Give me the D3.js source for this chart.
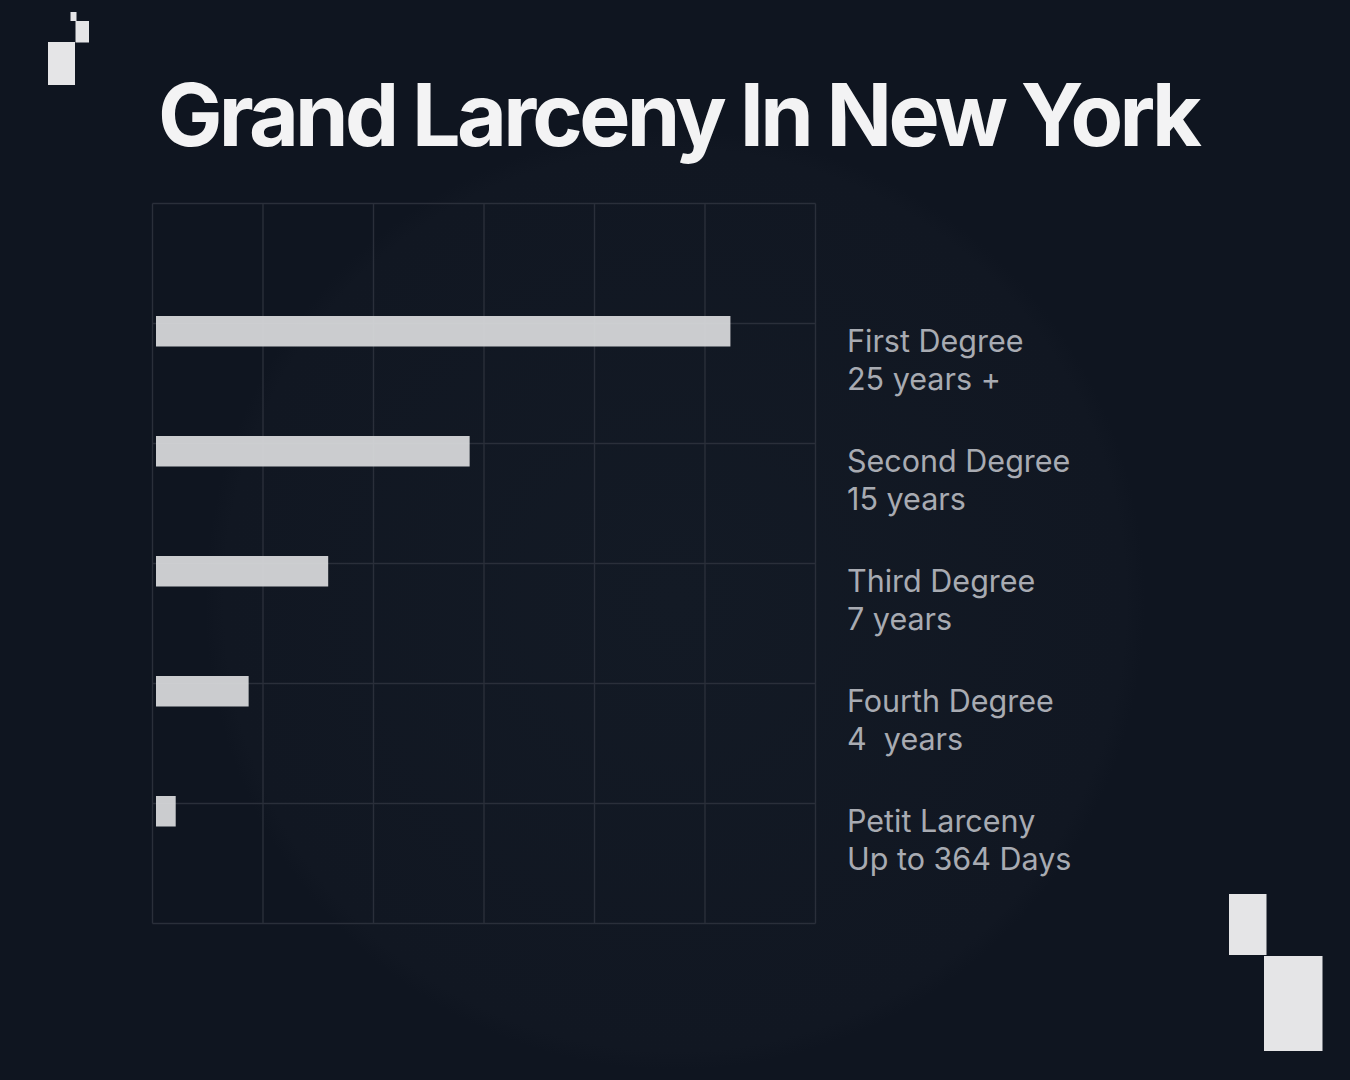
<!DOCTYPE html>
<html>
<head>
<meta charset="utf-8">
<script src="https://cdn.jsdelivr.net/npm/d3@7"></script>
<style>
html,body{margin:0;padding:0;background:#0f1520;}
svg{display:block;}
</style>
</head>
<body>
<svg id="chart" width="1350" height="1080"></svg>
<script>
const title = "Grand Larceny In New York";
const categories = ["First Degree", "Second Degree", "Third Degree", "Fourth Degree", "Petit Larceny"];
const sentences = ["25 years +", "15 years", "7 years", "4  years", "Up to 364 Days"];
const values = [26.15, 14.35, 7.95, 4.35, 1.05];
const xTicks = [0, 5, 10, 15, 20, 25, 30];
const rowTicks = [0, 1, 2, 3, 4, 5, 6];

const svg = d3.select("#chart");
const W = 1350, H = 1080;

const defs = svg.append("defs");
const rg = defs.append("radialGradient").attr("id", "glow")
  .attr("cx", 675).attr("cy", 600).attr("r", 470).attr("gradientUnits", "userSpaceOnUse");
rg.append("stop").attr("offset", "0%").attr("stop-color", "#131a25");
rg.append("stop").attr("offset", "96%").attr("stop-color", "#111722");
rg.append("stop").attr("offset", "100%").attr("stop-color", "#0f1520");

svg.append("rect").attr("width", W).attr("height", H).attr("fill", "#0f1520");
svg.append("circle").attr("cx", 675).attr("cy", 600).attr("r", 470).attr("fill", "url(#glow)");

// logo top-left
const logo = [[70.5, 12, 6, 9], [75.5, 21, 13.5, 21.5], [48, 42, 27, 43]];
svg.append("g").selectAll("rect").data(logo).join("rect")
  .attr("x", d => d[0]).attr("y", d => d[1]).attr("width", d => d[2]).attr("height", d => d[3])
  .attr("fill", "#e5e5e7");
// decoration bottom-right
const deco = [[1229, 894, 37.5, 61], [1264, 956, 58.5, 95]];
svg.append("g").selectAll("rect").data(deco).join("rect")
  .attr("x", d => d[0]).attr("y", d => d[1]).attr("width", d => d[2]).attr("height", d => d[3])
  .attr("fill", "#e5e5e7");

// title
const t = svg.append("text").text(title)
  .attr("x", 158).attr("y", 146)
  .attr("font-family", "Inter, 'Open Sans', sans-serif")
  .attr("font-weight", 700).attr("font-size", 86)
  .attr("fill", "#f3f3f4");
const tw = t.node().getComputedTextLength();
const target = 1044;
t.attr("letter-spacing", ((target - tw) / (title.length - 1)) + "px");

// scales
const x = d3.scaleLinear().domain([0, 30]).range([152.5, 815.5]);
const y = d3.scaleLinear().domain([0, 6]).range([203.5, 923.5]);

const grid = svg.append("g").attr("stroke", "#2a2f3a").attr("stroke-width", 1.4).attr("fill", "none");
grid.selectAll("line.v").data(xTicks).join("line").attr("class", "v")
  .attr("x1", d => x(d)).attr("x2", d => x(d)).attr("y1", y(0)).attr("y2", y(6));
grid.selectAll("line.h").data(rowTicks).join("line").attr("class", "h")
  .attr("y1", d => y(d)).attr("y2", d => y(d)).attr("x1", x(0)).attr("x2", x(30));

// bars
const barH = 30.5, barUp = 7.5, inset = 3.5;
svg.append("g").selectAll("rect").data(values).join("rect")
  .attr("x", x(0) + inset)
  .attr("y", (d, i) => y(i + 1) - barUp)
  .attr("width", d => x(d) - x(0) - inset)
  .attr("height", barH)
  .attr("fill", "#d9dadd").attr("fill-opacity", 0.93);

// labels
const lab = svg.append("g")
  .attr("font-family", "Inter, 'Open Sans', sans-serif")
  .attr("font-size", 30.5).attr("fill", "#a8abb2");
categories.forEach((c, i) => {
  const g = lab.append("text").attr("x", 847).attr("y", y(i + 1) + 28);
  g.append("tspan").attr("x", 847).text(c);
  g.append("tspan").attr("x", 847).attr("dy", 38).attr("xml:space", "preserve").text(sentences[i]);
});
</script>
</body>
</html>
